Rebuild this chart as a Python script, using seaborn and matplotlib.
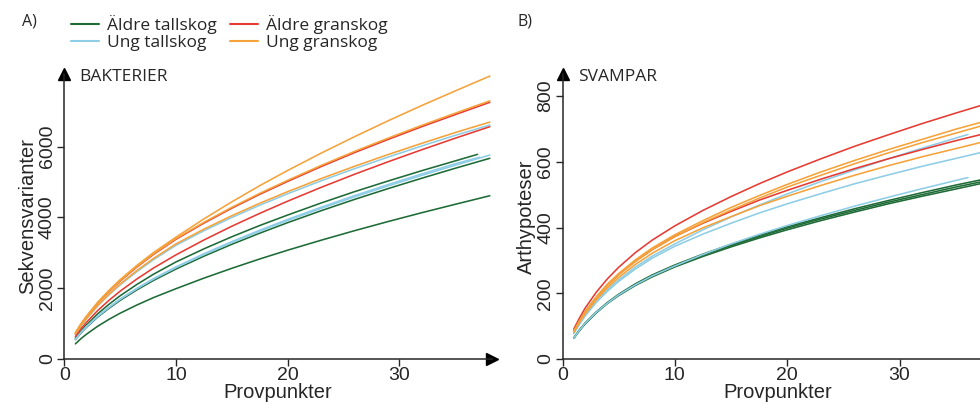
import numpy as np
import pandas as pd
import matplotlib
matplotlib.use("Agg")
import matplotlib.pyplot as plt
import seaborn as sns
from matplotlib.lines import Line2D

# positions along the curves (the last one is swapped for each curve's own end)
x_pts = [1, 1.5, 2, 3, 4, 5, 6.5, 8, 10, 12.5, 15, 17.5, 20, 23, 26, 29, 32, 35, 38.1]

categories = ["Äldre tallskog", "Ung tallskog", "Äldre granskog", "Ung granskog"]
colors = {"Äldre tallskog": "#1e6b37", "Ung tallskog": "#8ecde6",
          "Äldre granskog": "#e63b33", "Ung granskog": "#f5a23a"}

# BAKTERIER (Sekvensvarianter)
bak_tall_old = [
    [589, 792, 967, 1277, 1543, 1784, 2104, 2395, 2740, 3110, 3452, 3770, 4066, 4406, 4727, 5028, 5318, 5595, 5780],
    [546, 734, 897, 1184, 1430, 1654, 1951, 2220, 2540, 2903, 3239, 3553, 3851, 4188, 4509, 4813, 5105, 5387, 5669],
    [427, 574, 701, 925, 1118, 1292, 1524, 1735, 1985, 2283, 2561, 2825, 3073, 3355, 3625, 3883, 4131, 4369, 4611],
]
bak_tall_old_end = [37.0, 38.1, 38.1]
bak_tall_young = [
    [690, 928, 1133, 1496, 1807, 2090, 2465, 2806, 3210, 3621, 3996, 4343, 4667, 5033, 5377, 5704, 6016, 6317, 6609],
    [555, 746, 911, 1202, 1453, 1680, 1981, 2255, 2580, 2949, 3290, 3609, 3911, 4254, 4580, 4889, 5186, 5472, 5759],
    [559, 751, 918, 1212, 1464, 1693, 1997, 2272, 2600, 2972, 3315, 3637, 3942, 4287, 4615, 4927, 5226, 5515, 5700],
]
bak_tall_young_end = [38.1, 38.1, 37.2]
bak_gran_old = [
    [727, 977, 1193, 1575, 1903, 2200, 2596, 2954, 3380, 3836, 4259, 4651, 5016, 5435, 5831, 6202, 6561, 6902, 7250],
    [632, 850, 1038, 1370, 1655, 1914, 2258, 2570, 2940, 3360, 3749, 4113, 4457, 4848, 5219, 5571, 5909, 6236, 6562],
]
bak_gran_old_end = [38.1, 38.1]
bak_gran_young = [
    [740, 994, 1214, 1603, 1937, 2239, 2642, 3007, 3440, 3956, 4438, 4895, 5325, 5814, 6281, 6729, 7159, 7571, 7991],
    [731, 983, 1200, 1584, 1914, 2213, 2611, 2972, 3400, 3859, 4284, 4678, 5046, 5467, 5865, 6239, 6599, 6943, 7293],
    [699, 939, 1147, 1515, 1830, 2116, 2496, 2841, 3250, 3666, 4046, 4397, 4726, 5096, 5444, 5775, 6091, 6396, 6692],
]
bak_gran_young_end = [38.1, 38.1, 38.1]

# SVAMPAR (Arthypoteser)
sva_tall_old = [
    [64, 88, 109, 143, 172, 197, 229, 256, 286, 319, 349, 376, 402, 430, 457, 482, 506, 529, 551],
    [63, 86, 106, 140, 169, 193, 224, 250, 280, 312, 341, 368, 393, 421, 447, 472, 495, 517, 540],
    [63, 87, 108, 142, 170, 195, 226, 253, 283, 316, 345, 372, 398, 426, 452, 477, 500, 523, 545],
]
sva_tall_old_end = [38.1, 38.1, 38.1]
sva_tall_young = [
    [78, 107, 133, 175, 211, 241, 280, 313, 350, 393, 432, 468, 502, 540, 575, 609, 641, 672, 683],
    [77, 105, 130, 172, 206, 236, 274, 307, 343, 380, 413, 444, 472, 503, 533, 560, 586, 610, 635],
    [63, 87, 108, 142, 170, 195, 226, 253, 283, 318, 350, 379, 406, 436, 465, 492, 518, 543, 552],
]
sva_tall_young_end = [36.1, 38.1, 36.1]
sva_gran_old = [
    [91, 124, 154, 203, 244, 279, 324, 362, 405, 452, 494, 533, 569, 609, 647, 682, 716, 748, 780],
    [84, 115, 142, 187, 225, 257, 298, 333, 373, 413, 449, 483, 513, 547, 579, 609, 637, 664, 690],
]
sva_gran_old_end = [38.1, 38.1]
sva_gran_young = [
    [85, 116, 144, 189, 228, 260, 302, 338, 378, 421, 461, 497, 531, 569, 604, 637, 668, 699, 728],
    [83, 114, 141, 186, 224, 256, 297, 333, 372, 415, 453, 489, 523, 559, 594, 627, 658, 687, 717],
    [81, 111, 137, 180, 217, 248, 288, 322, 360, 399, 433, 466, 495, 528, 559, 588, 615, 640, 666],
]
sva_gran_young_end = [38.1, 38.1, 38.1]


def long_table(groups):
    rows = []
    for cat, curves, ends in groups:
        for i, (vals, end) in enumerate(zip(curves, ends)):
            xs = x_pts[:-1] + [end]
            for xv, yv in zip(xs, vals):
                rows.append({"x": xv, "y": yv, "cat": cat, "unit": f"{cat}{i}"})
    return pd.DataFrame(rows)


bak_df = long_table([
    ("Äldre tallskog", bak_tall_old, bak_tall_old_end),
    ("Ung tallskog", bak_tall_young, bak_tall_young_end),
    ("Äldre granskog", bak_gran_old, bak_gran_old_end),
    ("Ung granskog", bak_gran_young, bak_gran_young_end),
])
sva_df = long_table([
    ("Äldre tallskog", sva_tall_old, sva_tall_old_end),
    ("Ung tallskog", sva_tall_young, sva_tall_young_end),
    ("Äldre granskog", sva_gran_old, sva_gran_old_end),
    ("Ung granskog", sva_gran_young, sva_gran_young_end),
])

sns.set_style("ticks")
plt.rcParams["font.family"] = ["Liberation Sans", "DejaVu Sans"]
label_font = ["Open Sans", "DejaVu Sans"]

fig = plt.figure(figsize=(9.8, 4.05), dpi=100)
axA = fig.add_axes([0.0655, 0.1136, 0.4366, 0.7037])
axB = fig.add_axes([0.574, 0.1136, 0.439, 0.7037])


def style(ax, df, ylim, yticks, ylabel, title):
    sns.lineplot(data=df, x="x", y="y", hue="cat", units="unit", estimator=None,
                 palette=colors, hue_order=categories, linewidth=1.15,
                 legend=False, ax=ax)
    ax.set_xlim(0, 38.3)
    ax.set_ylim(0, ylim)
    ax.set_xticks([0, 10, 20, 30])
    ax.set_yticks(yticks)
    ax.tick_params(labelsize=14, length=5, width=1, pad=1)
    for lab in ax.get_yticklabels():
        lab.set_rotation(90)
        lab.set_va("center")
    sns.despine(ax=ax)
    for s in ["left", "bottom"]:
        ax.spines[s].set_linewidth(1.1)
    ax.plot(1, 0, ">k", markersize=9, transform=ax.transAxes, clip_on=False)
    ax.plot(0, 1, "^k", markersize=9, transform=ax.transAxes, clip_on=False)
    ax.set_xlabel("Provpunkter", fontsize=14.5, labelpad=-1)
    ax.set_ylabel(ylabel, fontsize=14.5, labelpad=1)
    ax.text(0.035, 0.99, title, transform=ax.transAxes, fontsize=12.5,
            family=label_font, va="center", ha="left")


style(axA, bak_df, 8050, [0, 2000, 4000, 6000], "Sekvensvarianter", "BAKTERIER")
style(axB, sva_df, 867, [0, 200, 400, 600, 800], "Arthypoteser", "SVAMPAR")

fig.text(22 / 980, 1 - 22 / 405, "A)", fontsize=11.5, va="center", family=label_font)
fig.text(517 / 980, 1 - 22 / 405, "B)", fontsize=11.5, va="center", family=label_font)

handles = [Line2D([], [], color=colors[c], lw=1.5) for c in categories]
fig.legend(handles, categories, ncol=2, loc="upper left",
           bbox_to_anchor=(59 / 980, 1 - 3 / 405), frameon=False,
           prop={"family": label_font, "size": 12.5},
           handlelength=1.6, handletextpad=0.45, labelspacing=0.05,
           columnspacing=0.8, borderpad=0.2)

fig.savefig("out.png", dpi=100)
